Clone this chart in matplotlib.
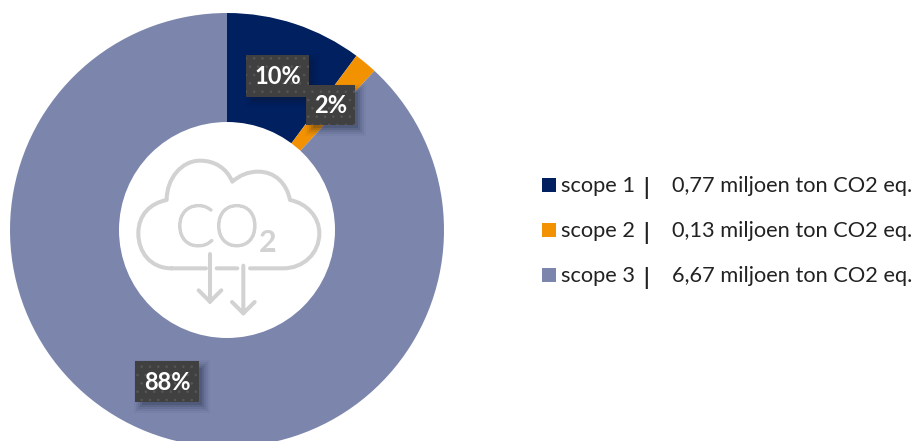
import matplotlib
matplotlib.use("Agg")
import matplotlib.pyplot as plt
import matplotlib.patheffects as pe
from matplotlib.patches import Rectangle, PathPatch, Circle
from matplotlib.path import Path

labels = ["scope 1", "scope 2", "scope 3"]
values = [0.77, 0.13, 6.67]
colors = ["#002060", "#F39200", "#7C86AD"]
unit = "miljoen ton CO2 eq."

W, H = 915, 441
plt.rcParams["font.family"] = ["Lato", "DejaVu Sans"]
plt.rcParams["hatch.linewidth"] = 0.6
fig = plt.figure(figsize=(W / 100, H / 100), dpi=100, facecolor="white")
ax = fig.add_axes([0, 0, 1, 1])


def Y(py):
    return H - py


ax.pie(values, colors=colors, startangle=90, counterclock=False,
       center=(227, Y(230)), radius=217, wedgeprops=dict(linewidth=0), frame=True)
ax.add_patch(Circle((227, Y(230)), 108, fc="white", ec="none", zorder=2))
ax.set_xlim(0, W)
ax.set_ylim(0, H)
ax.set_aspect("equal")
ax.axis("off")

# CO2 icon, traced in pixel coordinates of a 3x crop with origin (100, 130)
GREY = "#D2D2D2"


def P(zx, zy):
    return (100 + zx / 3, Y(130 + zy / 3))


M, C4, L = Path.MOVETO, Path.CURVE4, Path.LINETO
cloud = [((215, 415), M),
         ((150, 415), C4), ((115, 365), C4), ((115, 310), C4),
         ((115, 255), C4), ((150, 220), C4), ((200, 210), C4),
         ((200, 145), C4), ((245, 92), C4), ((300, 92), C4),
         ((345, 92), C4), ((380, 115), C4), ((397, 155), C4),
         ((420, 135), C4), ((445, 125), C4), ((475, 125), C4),
         ((525, 125), C4), ((560, 160), C4), ((570, 210), C4),
         ((620, 220), C4), ((658, 260), C4), ((658, 310), C4),
         ((658, 370), C4), ((610, 415), C4), ((550, 415), C4),
         ((450, 415), L),
         ((350, 415), M), ((412, 415), L),
         ((215, 415), M), ((318, 415), L),
         ((330, 372), M), ((330, 515), L),
         ((296, 481), M), ((330, 515), L), ((364, 481), L),
         ((430, 407), M), ((430, 550), L),
         ((396, 516), M), ((430, 550), L), ((464, 516), L)]
ax.add_patch(PathPatch(Path([P(*p) for p, _ in cloud], [c for _, c in cloud]),
                       fc="none", ec=GREY, lw=2.9, capstyle="round",
                       joinstyle="round", zorder=3))
ax.text(*P(352, 347), "CO", ha="center", va="baseline", fontsize=41,
        fontweight="light", color=GREY, zorder=3,
        path_effects=[pe.withStroke(linewidth=2.0, foreground=GREY)])
ax.text(*P(503, 365), "2", ha="center", va="baseline", fontsize=22,
        fontweight="bold", color=GREY, zorder=3)

# Data labels
boxes = [(246, 55, 63, 42), (306, 85, 49, 40), (135, 361, 64, 41)]
total = sum(values)
for v, (x, y, w, h) in zip(values, boxes):
    for grow, alpha in [(6, 0.04), (4, 0.06), (2, 0.09), (0, 0.12), (-2, 0.15)]:
        ax.add_patch(Rectangle((x + 5 - grow, Y(y + h + 5 + grow)), w + 2 * grow, h + 2 * grow,
                               fc="#101830", ec="none", alpha=alpha, zorder=4))
for v, (x, y, w, h) in zip(values, boxes):
    ax.add_patch(Rectangle((x, Y(y + h)), w, h, fc="#404040", ec="#565656", lw=0,
                           hatch="..", zorder=5))
    ax.text(x + w / 2, Y(y + h / 2 + 0.5), f"{round(v / total * 100)}%", ha="center", va="center",
            color="white", fontsize=17, fontweight="bold", zorder=6)

# Legend
tops = [178, 223, 268]
for lab, v, col, top in zip(labels, values, colors, tops):
    ax.add_patch(Rectangle((542, Y(top + 14)), 14, 14, fc=col, ec="none"))
    base = Y(top + 14)
    ax.text(561, base, lab, fontsize=15.7, color="#222222", va="baseline", ha="left")
    ax.text(646, base - 3, "|", fontsize=15.7, color="#222222", va="baseline", ha="center",
            fontweight="bold")
    ax.text(672, base, f"{v:.2f}".replace(".", ",") + " " + unit, fontsize=15.7,
            color="#222222", va="baseline", ha="left")

fig.savefig("out.png", dpi=100, facecolor="white")
